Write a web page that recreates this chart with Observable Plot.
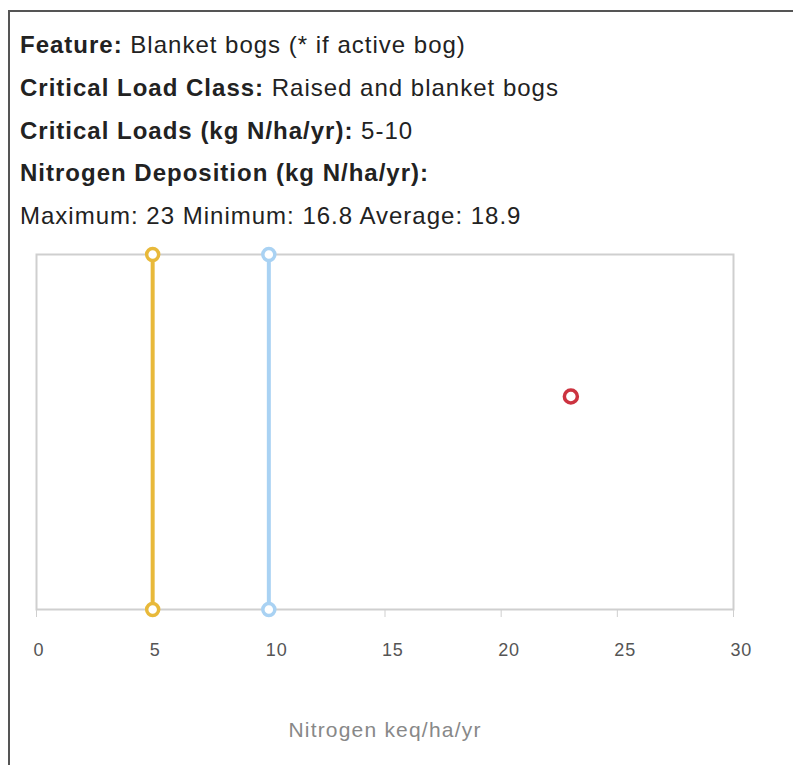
<!DOCTYPE html>
<html>
<head>
<meta charset="utf-8">
<script src="https://cdn.jsdelivr.net/npm/d3@7"></script>
<script src="https://cdn.jsdelivr.net/npm/@observablehq/plot@0.6"></script>
<style>
  html, body { margin: 0; padding: 0; background: #fff; width: 793px; height: 765px; overflow: hidden; }
  #box { position: absolute; left: 8px; top: 10px; width: 900px; height: 900px;
         border-left: 2px solid #555; border-top: 2px solid #555; box-sizing: border-box; }
  #info { position: absolute; left: 20px; top: 24px; font-family: "Liberation Sans", Arial, sans-serif;
          font-size: 24px; line-height: 42.8px; color: #222; white-space: nowrap; letter-spacing: 1px; }
  #info b { font-weight: bold; }
  #chart { position: absolute; left: 0; top: 240px; }
  #chart g[aria-label="text"] text { letter-spacing: 1.2px; }
  #chart g[aria-label="x-axis tick label"] text { letter-spacing: 0.8px; }
</style>
</head>
<body>
<div id="box"></div>
<div id="info"></div>
<div id="chart"></div>
<script>
// Header text
const infoLabels = ["Feature:", "Critical Load Class:", "Critical Loads (kg N/ha/yr):", "Nitrogen Deposition (kg N/ha/yr):"];
const infoValues = ["Blanket bogs (* if active bog)", "Raised and blanket bogs", "5-10", ""];
const depositionText = "Maximum: 23 Minimum: 16.8 Average: 18.9";

// Chart data
const loadValues = [5, 10];
const loadColors = ["#e8b93a", "#a9d2f3"];
const depositionX = [23];
const depositionY = [0.6];
const depositionColor = "#cc3340";
const xTicks = [0, 5, 10, 15, 20, 25, 30];
const xDomain = [0, 30];
const xLabel = "Nitrogen keq/ha/yr";

const info = document.getElementById("info");
infoLabels.forEach((l, i) => {
  const div = document.createElement("div");
  const b = document.createElement("b");
  b.textContent = l;
  div.appendChild(b);
  if (infoValues[i]) div.appendChild(document.createTextNode(" " + infoValues[i]));
  info.appendChild(div);
});
const dep = document.createElement("div");
dep.textContent = depositionText;
info.appendChild(dep);

const loads = loadValues.map((v, i) => ({x: v, color: loadColors[i]}));
const endpoints = loads.flatMap(d => [{x: d.x, y: 0, color: d.color}, {x: d.x, y: 1, color: d.color}]);
const deposition = depositionX.map((x, i) => ({x, y: depositionY[i]}));

const chart = Plot.plot({
  width: 793,
  height: 525,
  marginLeft: 36,
  marginRight: 60,
  marginTop: 14,
  marginBottom: 156,
  style: {fontFamily: "'Liberation Sans', Arial, sans-serif", background: "transparent"},
  x: {domain: xDomain},
  y: {domain: [0, 1], axis: null},
  marks: [
    Plot.frame({stroke: "#cfcfcf", strokeWidth: 2}),
    // tick marks only
    Plot.axisX({ticks: xTicks, tickSize: 8, stroke: "#cfcfcf", label: null, tickFormat: () => ""}),
    // tick labels only
    Plot.axisX({ticks: xTicks, tickSize: 0, tickPadding: 34, fontSize: 18, fill: "#555",
                textAnchor: "start", dx: -3, label: null, tickFormat: d => String(d)}),
    Plot.text([xLabel], {frameAnchor: "bottom", dy: 127, fontSize: 21, fill: "#888", text: d => d}),
    Plot.ruleX(loads, {x: "x", y1: 0, y2: 1, stroke: "color", strokeWidth: 4}),
    Plot.dot(endpoints, {x: "x", y: "y", r: 6, stroke: "color", strokeWidth: 3.5, fill: "white"}),
    Plot.dot(deposition, {x: "x", y: "y", r: 6.5, stroke: depositionColor, strokeWidth: 3.5, fill: "white"})
  ]
});
document.getElementById("chart").appendChild(chart);
</script>
</body>
</html>
